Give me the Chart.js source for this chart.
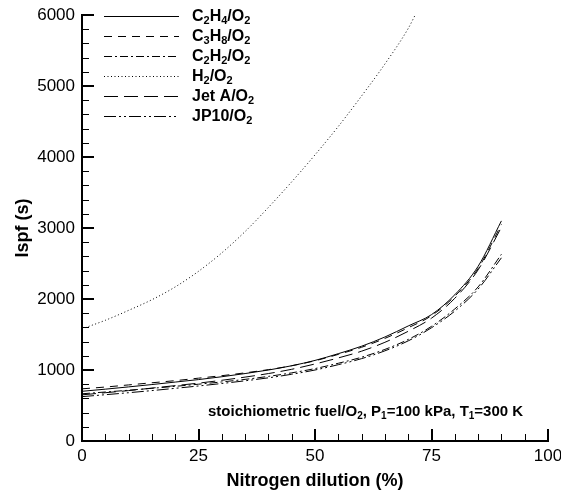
<!DOCTYPE html>
<html>
<head>
<meta charset="utf-8">
<script src="https://cdn.jsdelivr.net/npm/chart.js@4.4.1/dist/chart.umd.min.js"></script>
<style>
  html, body { margin: 0; padding: 0; background: #fff; }
</style>
</head>
<body>
<canvas id="ispfChart" width="561" height="496"></canvas>
<script>
// nitrogen dilution (%) for the hydrocarbon curves
const dilution = [0, 5, 10, 15, 20, 25, 30, 35, 40, 45, 50, 55, 60, 65, 70, 75, 80, 85, 90]
// H2 leaves the plot at the top, so it has its own x values
const dilutionH2 = [0, 5, 10, 15, 20, 25, 30, 35, 40, 45, 50, 55, 60, 65, 70, 71.5]

// Ispf (s)
const c2h4 = [700, 730, 762, 795, 830, 865, 905, 950, 1000, 1060, 1135, 1230, 1335, 1465, 1620, 1780, 2060, 2460, 3100]
const c3h8 = [735, 760, 790, 820, 850, 885, 920, 960, 1005, 1060, 1130, 1220, 1320, 1445, 1595, 1765, 2040, 2430, 3050]
const c2h2 = [665, 690, 715, 742, 770, 800, 832, 868, 910, 960, 1020, 1095, 1180, 1290, 1430, 1615, 1860, 2170, 2630]
const h2   = [1580, 1700, 1840, 1990, 2170, 2390, 2650, 2950, 3290, 3650, 4030, 4430, 4860, 5310, 5810, 6000]
const jetA = [650, 680, 710, 745, 780, 815, 855, 900, 950, 1010, 1085, 1170, 1265, 1390, 1545, 1730, 2010, 2410, 3010]
const jp10 = [625, 652, 680, 710, 742, 775, 810, 848, 890, 940, 1000, 1075, 1160, 1270, 1410, 1595, 1830, 2140, 2580]

// legend names, "_" marks the next char as a subscript
const names = ['C_2H_4/O_2', 'C_3H_8/O_2', 'C_2H_2/O_2', 'H_2/O_2', 'Jet A/O_2', 'JP10/O_2']
const note = 'stoichiometric fuel/O_2, P_1=100 kPa, T_1=300 K'

const xTicks = [0, 25, 50, 75, 100]
const yTicks = [0, 1000, 2000, 3000, 4000, 5000, 6000]

const FONT = 'Arial, "Liberation Sans", Helvetica, sans-serif'

function pts(xs, ys) {
  return xs.map((x, i) => ({x: x, y: ys[i]}))
}

function line(label, xs, ys, dash) {
  return {
    label: label,
    data: pts(xs, ys),
    borderColor: '#000',
    borderWidth: 1,
    borderDash: dash,
    pointRadius: 0,
    fill: false,
    cubicInterpolationMode: 'monotone'
  }
}

// draws text with subscripts, vertically centred on y
function drawRich(ctx, str, x, y, size, subSize) {
  ctx.textBaseline = 'middle'
  ctx.textAlign = 'left'
  let cx = x
  for (let i = 0; i < str.length; i++) {
    let ch = str[i]
    if (ch === '_' && i + 1 < str.length) {
      i++
      ch = str[i]
      ctx.font = 'bold ' + subSize + 'px ' + FONT
      ctx.fillText(ch, cx, y + size * 0.3)
    } else {
      ctx.font = 'bold ' + size + 'px ' + FONT
      ctx.fillText(ch, cx, y)
    }
    cx += ctx.measureText(ch).width
  }
}

// inward ticks, legend and the conditions note
const decor = {
  id: 'decor',
  afterDraw(chart) {
    const ctx = chart.ctx
    const a = chart.chartArea
    const xs = chart.scales.x
    const ys = chart.scales.y
    ctx.save()
    ctx.fillStyle = '#000'
    // tick marks pointing into the plot
    for (let v = 0; v <= 6000; v += 200) {
      const py = Math.round(ys.getPixelForValue(v))
      if (v % 1000 === 0) ctx.fillRect(a.left, py - 1, 12, 2)
      else ctx.fillRect(a.left, py, 7, 1)
    }
    for (let v = 0; v <= 100; v += 5) {
      const px = Math.round(xs.getPixelForValue(v))
      if (v % 25 === 0) ctx.fillRect(px - 1, a.bottom - 12, 2, 12)
      else ctx.fillRect(px, a.bottom - 7, 1, 7)
    }

    // legend
    ctx.strokeStyle = '#000'
    chart.data.datasets.forEach((ds, i) => {
      const ry = 16 + i * 20 + 0.5
      ctx.lineWidth = 1
      ctx.setLineDash(ds.borderDash || [])
      ctx.beginPath()
      ctx.moveTo(104, ry)
      ctx.lineTo(179, ry)
      ctx.stroke()
      ctx.setLineDash([])
      drawRich(ctx, names[i], 192, ry, 16, 11)
    })

    drawRich(ctx, note, 208, 412, 15, 10)
    ctx.restore()
  }
}

const data = {
  datasets: [
    line(names[0], dilution, c2h4, []),
    line(names[1], dilution, c3h8, [8, 6]),
    line(names[2], dilution, c2h2, [8, 3, 2, 3]),
    line(names[3], dilutionH2, h2, [1, 2.5]),
    line(names[4], dilution, jetA, [14, 6]),
    line(names[5], dilution, jp10, [12, 3, 2, 3, 2, 3])
  ]
}

const config = {
  type: 'line',
  data,
  options: {
    responsive: false,
    animation: false,
    layout: { padding: { left: 0, right: 13, top: 15, bottom: 0 } },
    plugins: { legend: { display: false }, tooltip: { enabled: false } },
    scales: {
      x: {
        type: 'linear',
        min: 0,
        max: 100,
        afterBuildTicks: s => { s.ticks = xTicks.map(v => ({value: v})) },
        afterFit: s => { s.height = 55; s.paddingLeft = 0; s.paddingRight = 0 },
        ticks: { color: '#000', font: { size: 17, family: FONT }, padding: 5, maxRotation: 0,
                 callback: v => String(v) },
        grid: { display: false, drawTicks: false },
        border: { display: true, color: '#000', width: 2 },
        title: {
          display: true, text: 'Nitrogen dilution (%)', color: '#000',
          font: { size: 18, weight: 'bold', family: FONT },
          padding: { top: 0, bottom: 4 }
        }
      },
      y: {
        type: 'linear',
        min: 0,
        max: 6000,
        afterBuildTicks: s => { s.ticks = yTicks.map(v => ({value: v})) },
        afterFit: s => { s.width = 82; s.paddingTop = 0; s.paddingBottom = 0 },
        ticks: { color: '#000', font: { size: 17, family: FONT }, padding: 7,
                 callback: v => String(v) },
        grid: { display: false, drawTicks: false },
        border: { display: true, color: '#000', width: 2 },
        title: {
          display: true, text: 'Ispf (s)', color: '#000',
          font: { size: 18, weight: 'bold', family: FONT },
          padding: { top: 12, bottom: 0 }
        }
      }
    }
  },
  plugins: [decor]
}

const ispfChart = new Chart(document.getElementById('ispfChart'), config)
</script>
</body>
</html>
